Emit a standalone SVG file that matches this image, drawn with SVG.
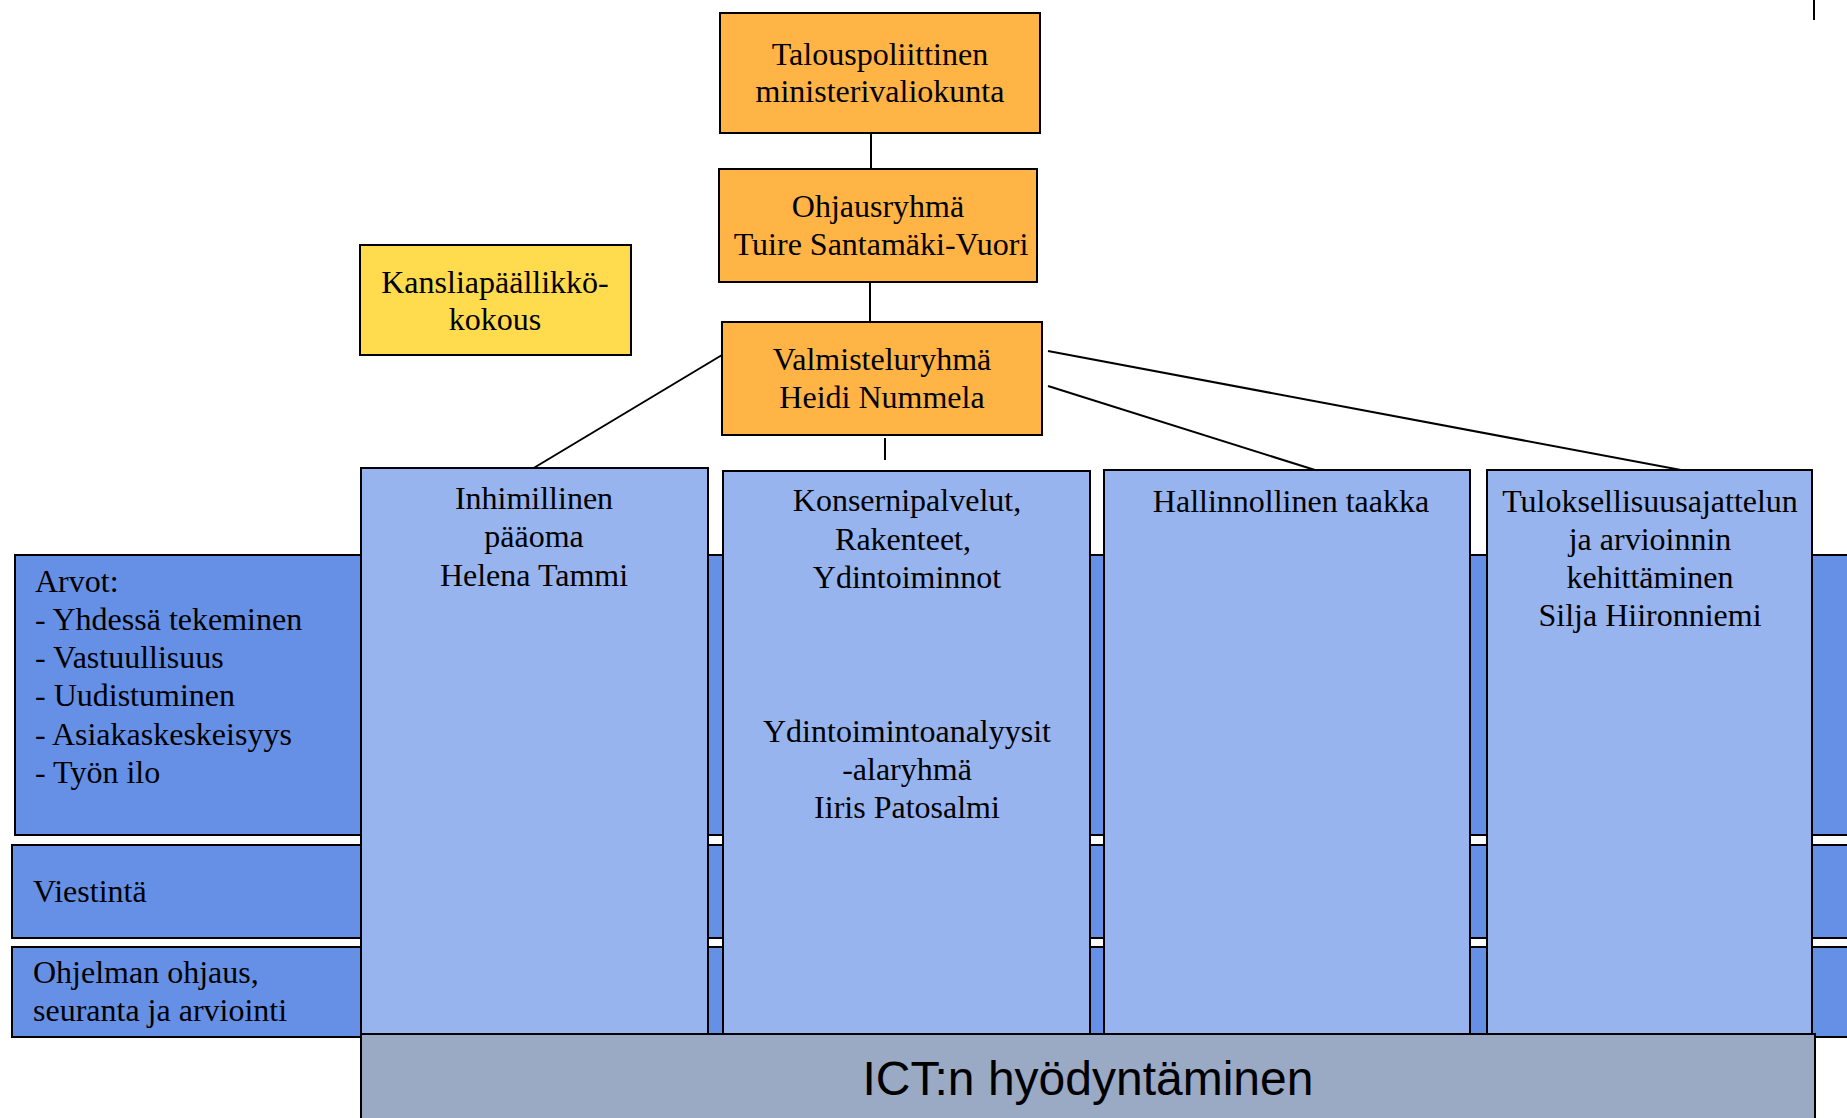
<svg xmlns="http://www.w3.org/2000/svg" width="1847" height="1118" viewBox="0 0 1847 1118">
<style>
.box{stroke:#000;stroke-width:2}
.org{fill:#FFB445}
.yel{fill:#FFDB4D}
.lb{fill:#98B4EE}
.db{fill:#6690E6}
.gr{fill:#9AA9C4}
.t{font-family:"Liberation Serif","Times New Roman",serif;font-size:32px;fill:#000}
.c{text-anchor:middle}
.ict{font-family:"Liberation Sans",Arial,sans-serif;font-size:48px;fill:#000;text-anchor:middle}
.ln{stroke:#000;stroke-width:2;fill:none}
</style>
<rect width="1847" height="1118" fill="#fff"/>
<line x1="1814" y1="0" x2="1814" y2="20" stroke="#000" stroke-width="2"/>
<g id="band-arvot">
<rect class="box db" x="15" y="555" width="1840" height="280"/>
<text class="t" x="35" y="592">Arvot:</text>
<text class="t" x="35" y="630">- Yhdessä tekeminen</text>
<text class="t" x="35" y="668">- Vastuullisuus</text>
<text class="t" x="35" y="706">- Uudistuminen</text>
<text class="t" x="35" y="745">- Asiakaskeskeisyys</text>
<text class="t" x="35" y="783">- Työn ilo</text>
</g>
<g id="band-viestinta">
<rect class="box db" x="12" y="845" width="1843" height="93"/>
<text class="t" x="33" y="902">Viestintä</text>
</g>
<g id="band-ohjelma">
<rect class="box db" x="12" y="947" width="1843" height="90"/>
<text class="t" x="33" y="983">Ohjelman ohjaus,</text>
<text class="t" x="33" y="1021">seuranta ja arviointi</text>
</g>
<g id="connectors">
<line class="ln" x1="871" y1="134" x2="871" y2="168"/>
<line class="ln" x1="870" y1="283" x2="870" y2="321"/>
<line class="ln" x1="885" y1="438" x2="885" y2="460"/>
<line class="ln" x1="722" y1="355" x2="532" y2="469"/>
<line class="ln" x1="1048" y1="386" x2="1315" y2="470"/>
<line class="ln" x1="1048" y1="351" x2="1681" y2="470"/>
</g>
<g id="talous">
<rect class="box org" x="720" y="13" width="320" height="120"/>
<text class="t c" x="880" y="65">Talouspoliittinen</text>
<text class="t c" x="880" y="102">ministerivaliokunta</text>
</g>
<g id="ohjausryhma">
<rect class="box org" x="719" y="169" width="318" height="113"/>
<text class="t c" x="878" y="217">Ohjausryhmä</text>
<text class="t c" x="881" y="255">Tuire Santamäki-Vuori</text>
</g>
<g id="valmisteluryhma">
<rect class="box org" x="722" y="322" width="320" height="113"/>
<text class="t c" x="882" y="370">Valmisteluryhmä</text>
<text class="t c" x="882" y="408">Heidi Nummela</text>
</g>
<g id="kansliapaallikko">
<rect class="box yel" x="360" y="245" width="271" height="110"/>
<text class="t c" x="495" y="293">Kansliapäällikkö-</text>
<text class="t c" x="495" y="330">kokous</text>
</g>
<g id="inhimillinen">
<rect class="box lb" x="361" y="468" width="347" height="570"/>
<text class="t c" x="534" y="509">Inhimillinen</text>
<text class="t c" x="534" y="547">pääoma</text>
<text class="t c" x="534" y="586">Helena Tammi</text>
</g>
<g id="konserni">
<rect class="box lb" x="723" y="471" width="367" height="567"/>
<text class="t c" x="907" y="511">Konsernipalvelut,</text>
<text class="t c" x="903" y="550">Rakenteet,</text>
<text class="t c" x="907" y="588">Ydintoiminnot</text>
<text class="t c" x="907" y="742">Ydintoimintoanalyysit</text>
<text class="t c" x="907" y="780">-alaryhmä</text>
<text class="t c" x="907" y="818">Iiris Patosalmi</text>
</g>
<g id="hallinnollinen">
<rect class="box lb" x="1104" y="470" width="366" height="568"/>
<text class="t c" x="1291" y="512">Hallinnollinen taakka</text>
</g>
<g id="tuloksellisuus">
<rect class="box lb" x="1487" y="470" width="325" height="568"/>
<text class="t c" x="1650" y="512">Tuloksellisuusajattelun</text>
<text class="t c" x="1650" y="550">ja arvioinnin</text>
<text class="t c" x="1650" y="588">kehittäminen</text>
<text class="t c" x="1650" y="626">Silja Hiironniemi</text>
</g>
<g id="ict">
<rect class="box gr" x="361" y="1034" width="1454" height="100"/>
<text class="ict" x="1088" y="1095">ICT:n hyödyntäminen</text>
</g>
</svg>
